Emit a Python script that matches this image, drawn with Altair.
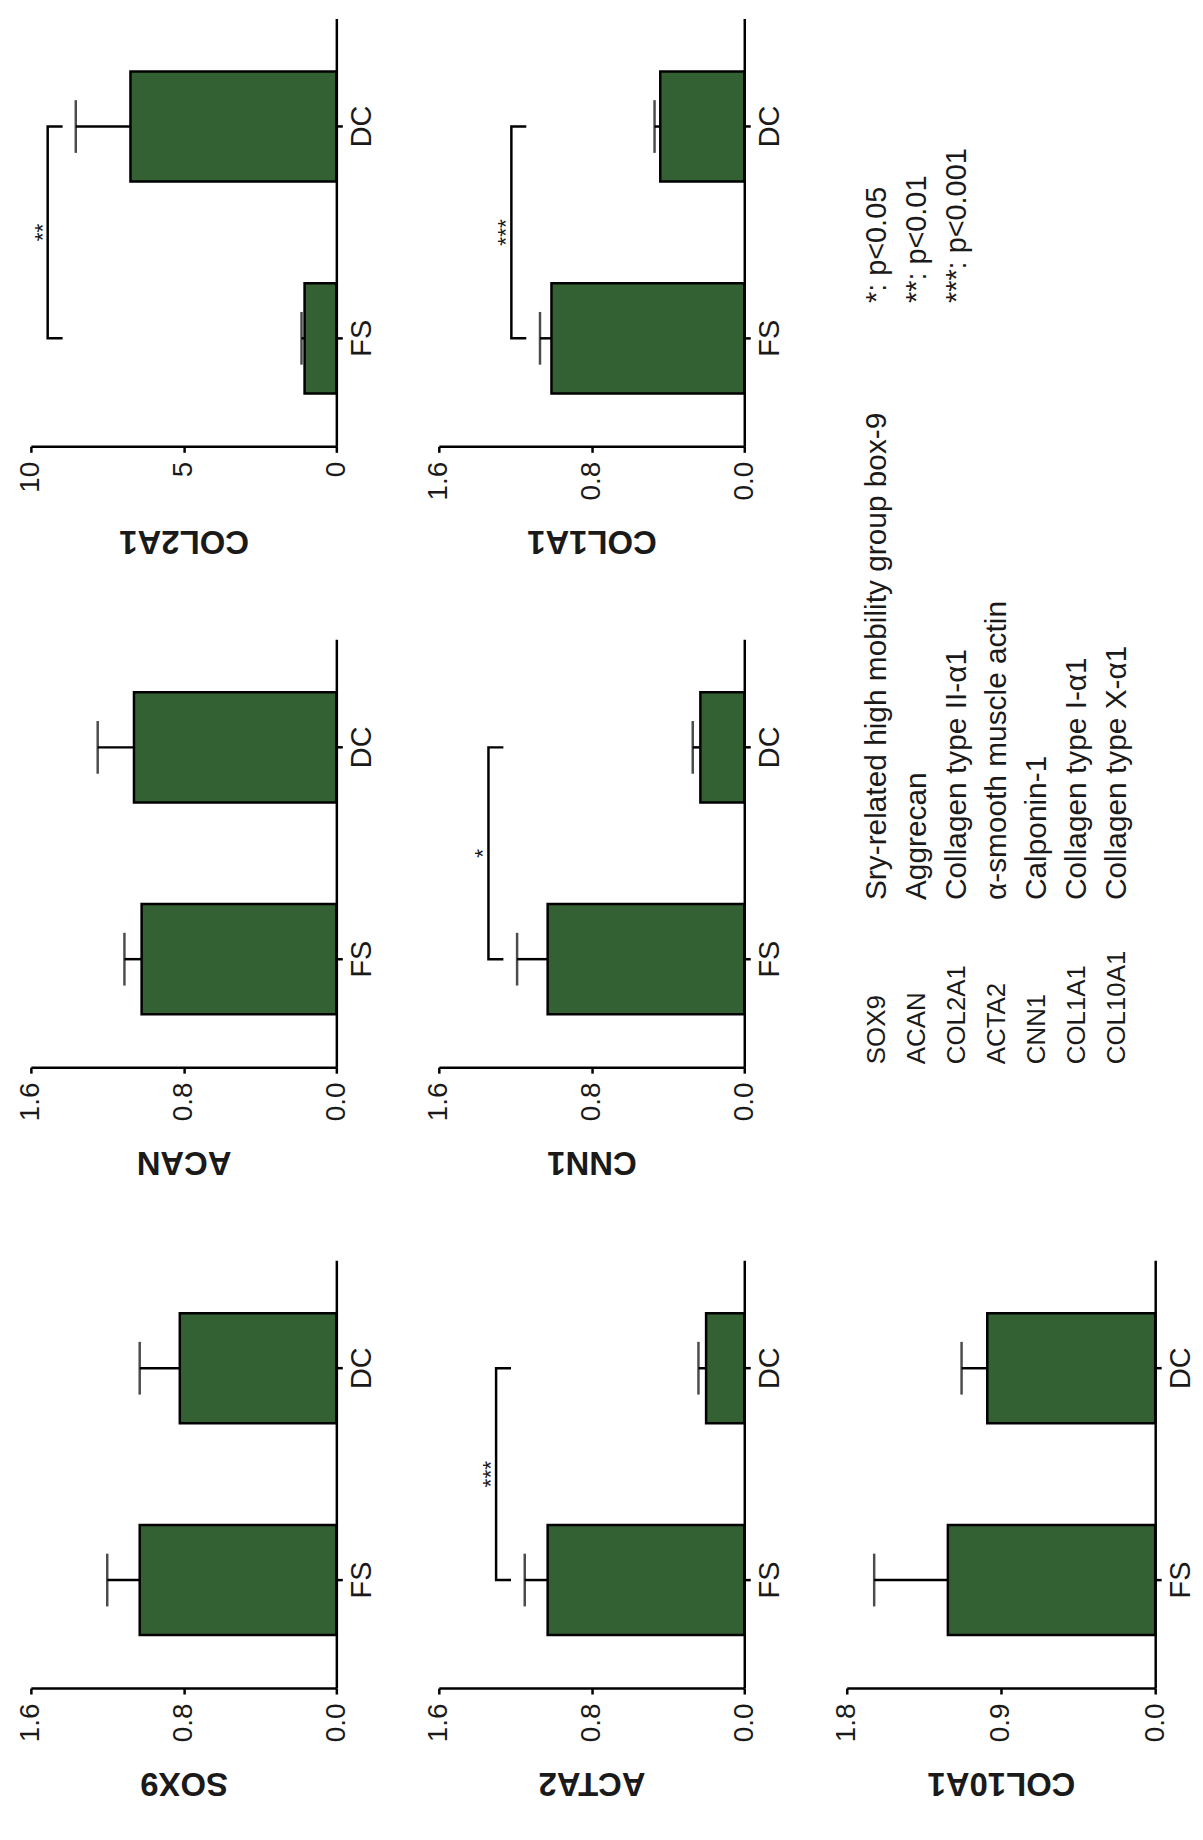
import altair as alt
import pandas as pd

# ---------------- data ----------------
groups = ["FS", "DC"]
genes = ["SOX9", "ACAN", "COL2A1", "ACTA2", "CNN1", "COL1A1", "COL10A1"]
fs_mean = [1.03, 1.02, 1.04, 1.03, 1.03, 1.01, 1.21]
fs_sem = [0.17, 0.09, 0.10, 0.12, 0.16, 0.06, 0.43]
dc_mean = [0.82, 1.06, 6.74, 0.20, 0.23, 0.44, 0.98]
dc_sem = [0.21, 0.19, 1.79, 0.04, 0.04, 0.03, 0.15]
axis_ticks = [
    [0, 0.8, 1.6],
    [0, 0.8, 1.6],
    [0, 5, 10],
    [0, 0.8, 1.6],
    [0, 0.8, 1.6],
    [0, 0.8, 1.6],
    [0, 0.9, 1.8],
]
sig_marks = ["", "", "**", "***", "*", "***", ""]
sig_height = [None, None, 9.45, 1.30, 1.34, 1.22, None]

abbreviations = ["SOX9", "ACAN", "COL2A1", "ACTA2", "CNN1", "COL1A1", "COL10A1"]
full_names = [
    "Sry-related high mobility group box-9",
    "Aggrecan",
    "Collagen type II-\u03b11",
    "\u03b1-smooth muscle actin",
    "Calponin-1",
    "Collagen type I-\u03b11",
    "Collagen type X-\u03b11",
]
p_legend = ["*: p<0.05", "**: p<0.01", "***: p<0.001"]

# ---------------- styling ----------------
FONT = "Liberation Sans"
GREEN = "#336133"
INK = "#1a1a1a"
LW = 2.5
H = 430          # plot height of every panel
W = 307          # plot width of the bar panels
W3 = 310         # width of the third column
PI, PO = 0.48, 0.25
STEP = H / (2 - PI + 2 * PO)


def panel(i, width):
    g = genes[i]
    vmax = axis_ticks[i][-1]
    fmt = "d" if vmax >= 5 else ".1f"
    xs = alt.Scale(domain=[0, vmax], reverse=True, nice=False, zero=True)
    ys = alt.Scale(domain=["DC", "FS"], paddingInner=PI, paddingOuter=PO)
    xax = alt.Axis(
        values=axis_ticks[i], format=fmt, title=g, orient="bottom",
        labelAngle=270, labelAlign="right", labelBaseline="middle",
        labelFontSize=28, labelPadding=9, labelFlush=False, labelOverlap=False,
        labelColor=INK, labelFont=FONT,
        tickSize=6, tickWidth=LW, tickColor="black",
        domainColor="black", domainWidth=LW, grid=False,
        titleAngle=180, titleBaseline="bottom", titleFontSize=33,
        titleFontWeight="bold", titleY=78, titleColor=INK, titleFont=FONT,
    )
    yax = alt.Axis(
        orient="right", title=None, labelAngle=270, labelAlign="center",
        labelBaseline="top", labelFontSize=29, labelPadding=5,
        labelColor=INK, labelFont=FONT,
        tickSize=6, tickWidth=LW, tickColor="black",
        domainColor="black", domainWidth=LW, grid=False,
    )

    def X(f):
        return alt.X(f, type="quantitative", scale=xs, axis=xax)

    def Y(f):
        return alt.Y(f, type="nominal", scale=ys, axis=yax)

    df = pd.DataFrame({
        "group": groups,
        "mean": [fs_mean[i], dc_mean[i]],
        "upper": [fs_mean[i] + fs_sem[i], dc_mean[i] + dc_sem[i]],
    })
    base = alt.Chart(df)
    bars = base.mark_bar(fill=GREEN, stroke="black", strokeWidth=LW).encode(
        x=X("mean"), y=Y("group"))
    err = base.mark_rule(color="black", strokeWidth=LW).encode(
        x=X("mean"), x2=alt.X2("upper"), y=Y("group"))
    cap = base.mark_tick(color="black", thickness=LW, size=53).encode(
        x=X("upper"), y=Y("group"))
    layers = [bars, err, cap]

    if sig_marks[i]:
        top = sig_height[i]
        leg = vmax * 15 / width
        path = pd.DataFrame({
            "v": [top - leg, top, top, top - leg],
            "group": ["DC", "DC", "FS", "FS"],
            "o": [0, 1, 2, 3],
        })
        bracket = alt.Chart(path).mark_line(color="black", strokeWidth=LW).encode(
            x=X("v"), y=Y("group"), order="o:Q")
        star = alt.Chart(pd.DataFrame({"v": [top], "group": ["DC"], "s": [sig_marks[i]]})).mark_text(
            angle=270, align="center", baseline="alphabetic", fontSize=23,
            font=FONT, color=INK, dx=-STEP / 2, dy=2,
        ).encode(x=X("v"), y=Y("group"), text="s:N")
        layers += [bracket, star]

    return alt.layer(*layers).properties(width=width, height=H)


line_scale = alt.Scale(domain=[-0.746, 6.965], nice=False, zero=False)

plegend = alt.Chart(pd.DataFrame({"idx": [0, 1, 2], "label": p_legend})).mark_text(
    angle=270, align="left", baseline="middle", fontSize=29, font=FONT, color=INK
).encode(
    x=alt.X("idx:Q", scale=line_scale, axis=None),
    y=alt.value(286),
    text="label:N",
).properties(width=W3, height=H)

abbr_df = pd.DataFrame({"idx": list(range(7)), "abbr": abbreviations, "name": full_names})
abbr_base = alt.Chart(abbr_df)
abbr = abbr_base.mark_text(
    angle=270, align="left", baseline="middle", fontSize=26, font=FONT, color=INK
).encode(
    x=alt.X("idx:Q", scale=line_scale, axis=None),
    y=alt.value(427),
    text="abbr:N",
)
names = abbr_base.mark_text(
    angle=270, align="left", baseline="middle", fontSize=30, font=FONT, color=INK
).encode(
    x=alt.X("idx:Q", scale=line_scale, axis=None),
    y=alt.value(262),
    text="name:N",
)
legend = alt.layer(abbr, names).properties(width=W3, height=H)

cells = [
    panel(2, W), panel(5, W), plegend,
    panel(1, W), panel(4, W), legend,
    panel(0, W), panel(3, W), panel(6, W3),
]

chart = alt.concat(
    *cells, columns=3, spacing={"row": 194, "column": 103}, bounds="flush"
).properties(
    padding={"left": 9, "top": 6, "right": 0, "bottom": 5}
).configure(font=FONT).configure_view(stroke=None)

chart.save("out.html", embed_options={"renderer": "svg", "actions": False})
